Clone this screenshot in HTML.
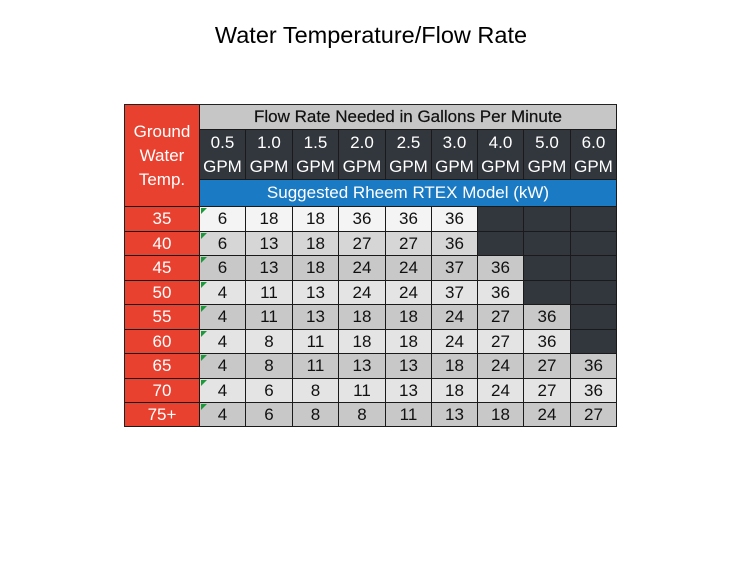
<!DOCTYPE html>
<html><head><style>
body{margin:0;width:742px;height:576px;background:#fff;font-family:"Liberation Sans","DejaVu Sans",sans-serif;position:relative;overflow:hidden}
.t{position:absolute;left:0;width:742px;top:22px;text-align:center;font-size:23.5px;color:#000}
.c{position:absolute;box-sizing:border-box;display:flex;align-items:center;justify-content:center;text-align:center;border-right:1px solid #1a1a1a;border-bottom:1px solid #1a1a1a;font-size:17px;color:#111}
.r{background:#e8412f;color:#fff}
.d{background:#32363d;color:#fff}
.tri{position:absolute;left:201px;width:0;height:0;border-top:6px solid #1a9a3a;border-right:6px solid transparent}
</style></head><body>
<div class="t">Water Temperature/Flow Rate</div>
<div id="g" style="position:absolute;left:124px;top:104px;width:493px;height:323px;border-left:1px solid #222;border-top:1px solid #222;box-sizing:border-box"></div>
<script>
const X=[124,200,246,293,339,386,432,478,524,571,617];
const Y=[104,130,180,207,232,256,281,305,330,354,379,403,427];
let h='';
function cell(x1,y1,x2,y2,cls,style,txt){h+=`<div class="c ${cls}" style="left:${x1}px;top:${y1}px;width:${x2-x1}px;height:${y2-y1}px;${style}">${txt}</div>`;}
cell(124,104,200,207,'r','font-size:17px;line-height:24px;border-left:1px solid #222;border-top:1px solid #222','Ground<br>Water<br>Temp.');
cell(200,104,617,130,'','background:#c6c6c6;border-top:1px solid #222;-webkit-text-stroke:0.2px #111','Flow Rate Needed in Gallons Per Minute');
const g=['0.5','1.0','1.5','2.0','2.5','3.0','4.0','5.0','6.0'];
for(let i=0;i<9;i++)cell(X[i+1],130,X[i+2],180,'d','line-height:24px',g[i]+'<br>GPM');
cell(200,180,617,207,'','background:#1b7ac4;color:#fff','Suggested Rheem RTEX Model (kW)');
const T=['35','40','45','50','55','60','65','70','75+'];
const D=[[6,18,18,36,36,36],[6,13,18,27,27,36],[6,13,18,24,24,37,36],[4,11,13,24,24,37,36],[4,11,13,18,18,24,27,36],[4,8,11,18,18,24,27,36],[4,8,11,13,13,18,24,27,36],[4,6,8,11,13,18,24,27,36],[4,6,8,8,11,13,18,24,27]];
const bg=['#f4f4f4','#d6d6d6','#c8c8c8','#e4e4e4','#c8c8c8','#e4e4e4','#c8c8c8','#e4e4e4','#c8c8c8'];
for(let r=0;r<9;r++){const y1=Y[r+3],y2=Y[r+4];
cell(124,y1,200,y2,'r','border-left:1px solid #222',T[r]);
for(let i=0;i<9;i++){const v=D[r][i];
if(v===undefined)cell(X[i+1],y1,X[i+2],y2,'d','','');else cell(X[i+1],y1,X[i+2],y2,'','background:'+bg[r],v);}
h+=`<div class="tri" style="top:${y1+1}px"></div>`;}
document.body.insertAdjacentHTML('beforeend',h);
</script>
</body></html>
